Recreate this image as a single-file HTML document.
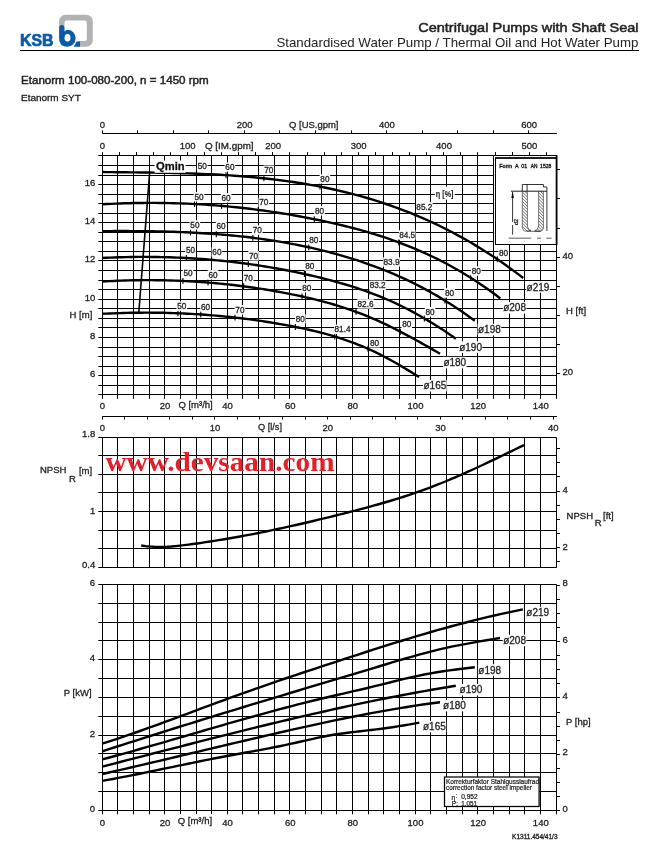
<!DOCTYPE html>
<html><head><meta charset="utf-8"><style>
html,body{margin:0;padding:0;background:#fff;}
body{width:666px;height:862px;overflow:hidden;position:relative;}
svg{position:absolute;left:0;top:0;}
</style></head><body>
<svg width="666" height="862" viewBox="0 0 666 862" font-family="Liberation Sans, Arial, sans-serif">
<rect width="666" height="862" fill="#fff"/>
<!-- logo -->
<path d="M65.4,14.8 H86.3 A6.5,6.5 0 0 1 92.8,21.3 V40.2 A6.5,6.5 0 0 1 86.3,46.7 H78 V41 H84.8 A2,2 0 0 0 86.8,39 V22.5 A2,2 0 0 0 84.8,20.5 H66.5 A2,2 0 0 0 64.5,22.5 V26 H59.1 V21.3 A6.5,6.5 0 0 1 65.4,14.8 Z" fill="#b3b3b3"/>
<path d="M59.1,27.6 Q59.1,25.1 61.8,25.1 Q64.5,25.1 64.5,27.6 V31.6 Q66,29.7 67.6,29.7 A8,8.5 0 0 1 67.6,46.7 Q59.1,46.7 59.1,38.2 Z M67.5,34 A3,3.8 0 1 0 67.5,41.6 A3,3.8 0 1 0 67.5,34 Z" fill="#0b5aa8" fill-rule="evenodd"/>
<path d="M76.6,41.5 H80 V46.7 H73.8 Z" fill="#0b5aa8"/>
<text x="20" y="46.3" font-size="16" font-weight="bold" fill="#0b5aa8" stroke="#0b5aa8" stroke-width="0.7" textLength="33.5" lengthAdjust="spacingAndGlyphs">KSB</text>
<line x1="20" y1="50.5" x2="639" y2="50.5" stroke="#000" stroke-width="1"/>
<text x="638.6" y="31.6" font-size="13.4" font-weight="normal" fill="#222" stroke="#222" stroke-width="0.5" text-anchor="end" textLength="220.4" lengthAdjust="spacingAndGlyphs">Centrifugal Pumps with Shaft Seal</text>
<text x="638.4" y="46.9" font-size="12.2" fill="#222" text-anchor="end" textLength="362" lengthAdjust="spacingAndGlyphs">Standardised Water Pump / Thermal Oil and Hot Water Pump</text>
<text x="21" y="83.9" font-size="11" font-weight="normal" fill="#222" stroke="#222" stroke-width="0.45" textLength="187.7" lengthAdjust="spacingAndGlyphs">Etanorm 100-080-200, n = 1450 rpm</text>
<text x="21" y="100.6" font-size="9.1" fill="#222" stroke="#222" stroke-width="0.3" textLength="59.8" lengthAdjust="spacingAndGlyphs">Etanorm SYT</text>
<line x1="102.50" y1="155.60" x2="102.50" y2="398.90" stroke="#000" stroke-width="1"/>
<line x1="117.50" y1="155.60" x2="117.50" y2="398.90" stroke="#000" stroke-width="1"/>
<line x1="133.50" y1="155.60" x2="133.50" y2="398.90" stroke="#000" stroke-width="1"/>
<line x1="149.50" y1="155.60" x2="149.50" y2="398.90" stroke="#000" stroke-width="1"/>
<line x1="164.50" y1="155.60" x2="164.50" y2="398.90" stroke="#000" stroke-width="1"/>
<line x1="180.50" y1="155.60" x2="180.50" y2="398.90" stroke="#000" stroke-width="1"/>
<line x1="196.50" y1="155.60" x2="196.50" y2="398.90" stroke="#000" stroke-width="1"/>
<line x1="211.50" y1="155.60" x2="211.50" y2="398.90" stroke="#000" stroke-width="1"/>
<line x1="227.50" y1="155.60" x2="227.50" y2="398.90" stroke="#000" stroke-width="1"/>
<line x1="242.50" y1="155.60" x2="242.50" y2="398.90" stroke="#000" stroke-width="1"/>
<line x1="258.50" y1="155.60" x2="258.50" y2="398.90" stroke="#000" stroke-width="1"/>
<line x1="274.50" y1="155.60" x2="274.50" y2="398.90" stroke="#000" stroke-width="1"/>
<line x1="289.50" y1="155.60" x2="289.50" y2="398.90" stroke="#000" stroke-width="1"/>
<line x1="305.50" y1="155.60" x2="305.50" y2="398.90" stroke="#000" stroke-width="1"/>
<line x1="321.50" y1="155.60" x2="321.50" y2="398.90" stroke="#000" stroke-width="1"/>
<line x1="336.50" y1="155.60" x2="336.50" y2="398.90" stroke="#000" stroke-width="1"/>
<line x1="352.50" y1="155.60" x2="352.50" y2="398.90" stroke="#000" stroke-width="1"/>
<line x1="368.50" y1="155.60" x2="368.50" y2="398.90" stroke="#000" stroke-width="1"/>
<line x1="383.50" y1="155.60" x2="383.50" y2="398.90" stroke="#000" stroke-width="1"/>
<line x1="399.50" y1="155.60" x2="399.50" y2="398.90" stroke="#000" stroke-width="1"/>
<line x1="415.50" y1="155.60" x2="415.50" y2="398.90" stroke="#000" stroke-width="1"/>
<line x1="430.50" y1="155.60" x2="430.50" y2="398.90" stroke="#000" stroke-width="1"/>
<line x1="446.50" y1="155.60" x2="446.50" y2="398.90" stroke="#000" stroke-width="1"/>
<line x1="462.50" y1="155.60" x2="462.50" y2="398.90" stroke="#000" stroke-width="1"/>
<line x1="477.50" y1="155.60" x2="477.50" y2="398.90" stroke="#000" stroke-width="1"/>
<line x1="493.50" y1="155.60" x2="493.50" y2="398.90" stroke="#000" stroke-width="1"/>
<line x1="509.50" y1="155.60" x2="509.50" y2="398.90" stroke="#000" stroke-width="1"/>
<line x1="524.50" y1="155.60" x2="524.50" y2="398.90" stroke="#000" stroke-width="1"/>
<line x1="540.50" y1="155.60" x2="540.50" y2="398.90" stroke="#000" stroke-width="1"/>
<line x1="556.50" y1="155.60" x2="556.50" y2="398.90" stroke="#000" stroke-width="1"/>
<line x1="98.30" y1="155.50" x2="556.44" y2="155.50" stroke="#000" stroke-width="1"/>
<line x1="98.30" y1="165.50" x2="556.44" y2="165.50" stroke="#000" stroke-width="1"/>
<line x1="98.30" y1="175.50" x2="556.44" y2="175.50" stroke="#000" stroke-width="1"/>
<line x1="98.30" y1="184.50" x2="556.44" y2="184.50" stroke="#000" stroke-width="1"/>
<line x1="98.30" y1="194.50" x2="556.44" y2="194.50" stroke="#000" stroke-width="1"/>
<line x1="98.30" y1="203.50" x2="556.44" y2="203.50" stroke="#000" stroke-width="1"/>
<line x1="98.30" y1="213.50" x2="556.44" y2="213.50" stroke="#000" stroke-width="1"/>
<line x1="98.30" y1="222.50" x2="556.44" y2="222.50" stroke="#000" stroke-width="1"/>
<line x1="98.30" y1="232.50" x2="556.44" y2="232.50" stroke="#000" stroke-width="1"/>
<line x1="98.30" y1="241.50" x2="556.44" y2="241.50" stroke="#000" stroke-width="1"/>
<line x1="98.30" y1="251.50" x2="556.44" y2="251.50" stroke="#000" stroke-width="1"/>
<line x1="98.30" y1="260.50" x2="556.44" y2="260.50" stroke="#000" stroke-width="1"/>
<line x1="98.30" y1="270.50" x2="556.44" y2="270.50" stroke="#000" stroke-width="1"/>
<line x1="98.30" y1="280.50" x2="556.44" y2="280.50" stroke="#000" stroke-width="1"/>
<line x1="98.30" y1="289.50" x2="556.44" y2="289.50" stroke="#000" stroke-width="1"/>
<line x1="98.30" y1="299.50" x2="556.44" y2="299.50" stroke="#000" stroke-width="1"/>
<line x1="98.30" y1="308.50" x2="556.44" y2="308.50" stroke="#000" stroke-width="1"/>
<line x1="98.30" y1="318.50" x2="556.44" y2="318.50" stroke="#000" stroke-width="1"/>
<line x1="98.30" y1="327.50" x2="556.44" y2="327.50" stroke="#000" stroke-width="1"/>
<line x1="98.30" y1="337.50" x2="556.44" y2="337.50" stroke="#000" stroke-width="1"/>
<line x1="98.30" y1="347.50" x2="556.44" y2="347.50" stroke="#000" stroke-width="1"/>
<line x1="98.30" y1="356.50" x2="556.44" y2="356.50" stroke="#000" stroke-width="1"/>
<line x1="98.30" y1="366.50" x2="556.44" y2="366.50" stroke="#000" stroke-width="1"/>
<line x1="98.30" y1="375.50" x2="556.44" y2="375.50" stroke="#000" stroke-width="1"/>
<line x1="98.30" y1="385.50" x2="556.44" y2="385.50" stroke="#000" stroke-width="1"/>
<line x1="98.30" y1="394.50" x2="556.44" y2="394.50" stroke="#000" stroke-width="1"/>
<line x1="102.30" y1="133.50" x2="556.94" y2="133.50" stroke="#000" stroke-width="1"/>
<line x1="102.50" y1="133.40" x2="102.50" y2="130.40" stroke="#000" stroke-width="1"/>
<line x1="137.50" y1="133.40" x2="137.50" y2="130.40" stroke="#000" stroke-width="1"/>
<line x1="173.50" y1="133.40" x2="173.50" y2="130.40" stroke="#000" stroke-width="1"/>
<line x1="208.50" y1="133.40" x2="208.50" y2="130.40" stroke="#000" stroke-width="1"/>
<line x1="244.50" y1="133.40" x2="244.50" y2="130.40" stroke="#000" stroke-width="1"/>
<line x1="279.50" y1="133.40" x2="279.50" y2="130.40" stroke="#000" stroke-width="1"/>
<line x1="315.50" y1="133.40" x2="315.50" y2="130.40" stroke="#000" stroke-width="1"/>
<line x1="351.50" y1="133.40" x2="351.50" y2="130.40" stroke="#000" stroke-width="1"/>
<line x1="386.50" y1="133.40" x2="386.50" y2="130.40" stroke="#000" stroke-width="1"/>
<line x1="422.50" y1="133.40" x2="422.50" y2="130.40" stroke="#000" stroke-width="1"/>
<line x1="457.50" y1="133.40" x2="457.50" y2="130.40" stroke="#000" stroke-width="1"/>
<line x1="493.50" y1="133.40" x2="493.50" y2="130.40" stroke="#000" stroke-width="1"/>
<line x1="528.50" y1="133.40" x2="528.50" y2="130.40" stroke="#000" stroke-width="1"/>
<line x1="102.50" y1="155.60" x2="102.50" y2="152.10" stroke="#000" stroke-width="1"/>
<line x1="119.50" y1="155.60" x2="119.50" y2="152.10" stroke="#000" stroke-width="1"/>
<line x1="136.50" y1="155.60" x2="136.50" y2="152.10" stroke="#000" stroke-width="1"/>
<line x1="153.50" y1="155.60" x2="153.50" y2="152.10" stroke="#000" stroke-width="1"/>
<line x1="170.50" y1="155.60" x2="170.50" y2="152.10" stroke="#000" stroke-width="1"/>
<line x1="187.50" y1="155.60" x2="187.50" y2="152.10" stroke="#000" stroke-width="1"/>
<line x1="204.50" y1="155.60" x2="204.50" y2="152.10" stroke="#000" stroke-width="1"/>
<line x1="221.50" y1="155.60" x2="221.50" y2="152.10" stroke="#000" stroke-width="1"/>
<line x1="238.50" y1="155.60" x2="238.50" y2="152.10" stroke="#000" stroke-width="1"/>
<line x1="255.50" y1="155.60" x2="255.50" y2="152.10" stroke="#000" stroke-width="1"/>
<line x1="272.50" y1="155.60" x2="272.50" y2="152.10" stroke="#000" stroke-width="1"/>
<line x1="289.50" y1="155.60" x2="289.50" y2="152.10" stroke="#000" stroke-width="1"/>
<line x1="307.50" y1="155.60" x2="307.50" y2="152.10" stroke="#000" stroke-width="1"/>
<line x1="324.50" y1="155.60" x2="324.50" y2="152.10" stroke="#000" stroke-width="1"/>
<line x1="341.50" y1="155.60" x2="341.50" y2="152.10" stroke="#000" stroke-width="1"/>
<line x1="358.50" y1="155.60" x2="358.50" y2="152.10" stroke="#000" stroke-width="1"/>
<line x1="375.50" y1="155.60" x2="375.50" y2="152.10" stroke="#000" stroke-width="1"/>
<line x1="392.50" y1="155.60" x2="392.50" y2="152.10" stroke="#000" stroke-width="1"/>
<line x1="409.50" y1="155.60" x2="409.50" y2="152.10" stroke="#000" stroke-width="1"/>
<line x1="426.50" y1="155.60" x2="426.50" y2="152.10" stroke="#000" stroke-width="1"/>
<line x1="443.50" y1="155.60" x2="443.50" y2="152.10" stroke="#000" stroke-width="1"/>
<line x1="460.50" y1="155.60" x2="460.50" y2="152.10" stroke="#000" stroke-width="1"/>
<line x1="477.50" y1="155.60" x2="477.50" y2="152.10" stroke="#000" stroke-width="1"/>
<line x1="495.50" y1="155.60" x2="495.50" y2="152.10" stroke="#000" stroke-width="1"/>
<line x1="512.50" y1="155.60" x2="512.50" y2="152.10" stroke="#000" stroke-width="1"/>
<line x1="529.50" y1="155.60" x2="529.50" y2="152.10" stroke="#000" stroke-width="1"/>
<line x1="546.50" y1="155.60" x2="546.50" y2="152.10" stroke="#000" stroke-width="1"/>
<line x1="556.44" y1="373.50" x2="560.04" y2="373.50" stroke="#000" stroke-width="1"/>
<line x1="556.44" y1="344.50" x2="560.04" y2="344.50" stroke="#000" stroke-width="1"/>
<line x1="556.44" y1="315.50" x2="560.04" y2="315.50" stroke="#000" stroke-width="1"/>
<line x1="556.44" y1="286.50" x2="560.04" y2="286.50" stroke="#000" stroke-width="1"/>
<line x1="556.44" y1="257.50" x2="560.04" y2="257.50" stroke="#000" stroke-width="1"/>
<line x1="556.44" y1="228.50" x2="560.04" y2="228.50" stroke="#000" stroke-width="1"/>
<line x1="556.44" y1="198.50" x2="560.04" y2="198.50" stroke="#000" stroke-width="1"/>
<line x1="556.44" y1="169.50" x2="560.04" y2="169.50" stroke="#000" stroke-width="1"/>
<line x1="102.30" y1="416.50" x2="556.94" y2="416.50" stroke="#000" stroke-width="1"/>
<line x1="102.50" y1="416.60" x2="102.50" y2="419.60" stroke="#000" stroke-width="1"/>
<line x1="124.50" y1="416.60" x2="124.50" y2="419.60" stroke="#000" stroke-width="1"/>
<line x1="147.50" y1="416.60" x2="147.50" y2="419.60" stroke="#000" stroke-width="1"/>
<line x1="169.50" y1="416.60" x2="169.50" y2="419.60" stroke="#000" stroke-width="1"/>
<line x1="192.50" y1="416.60" x2="192.50" y2="419.60" stroke="#000" stroke-width="1"/>
<line x1="214.50" y1="416.60" x2="214.50" y2="419.60" stroke="#000" stroke-width="1"/>
<line x1="237.50" y1="416.60" x2="237.50" y2="419.60" stroke="#000" stroke-width="1"/>
<line x1="259.50" y1="416.60" x2="259.50" y2="419.60" stroke="#000" stroke-width="1"/>
<line x1="282.50" y1="416.60" x2="282.50" y2="419.60" stroke="#000" stroke-width="1"/>
<line x1="305.50" y1="416.60" x2="305.50" y2="419.60" stroke="#000" stroke-width="1"/>
<line x1="327.50" y1="416.60" x2="327.50" y2="419.60" stroke="#000" stroke-width="1"/>
<line x1="350.50" y1="416.60" x2="350.50" y2="419.60" stroke="#000" stroke-width="1"/>
<line x1="372.50" y1="416.60" x2="372.50" y2="419.60" stroke="#000" stroke-width="1"/>
<line x1="395.50" y1="416.60" x2="395.50" y2="419.60" stroke="#000" stroke-width="1"/>
<line x1="417.50" y1="416.60" x2="417.50" y2="419.60" stroke="#000" stroke-width="1"/>
<line x1="440.50" y1="416.60" x2="440.50" y2="419.60" stroke="#000" stroke-width="1"/>
<line x1="462.50" y1="416.60" x2="462.50" y2="419.60" stroke="#000" stroke-width="1"/>
<line x1="485.50" y1="416.60" x2="485.50" y2="419.60" stroke="#000" stroke-width="1"/>
<line x1="507.50" y1="416.60" x2="507.50" y2="419.60" stroke="#000" stroke-width="1"/>
<line x1="530.50" y1="416.60" x2="530.50" y2="419.60" stroke="#000" stroke-width="1"/>
<line x1="553.50" y1="416.60" x2="553.50" y2="419.60" stroke="#000" stroke-width="1"/>
<line x1="102.50" y1="437.20" x2="102.50" y2="567.70" stroke="#000" stroke-width="1"/>
<line x1="117.50" y1="437.20" x2="117.50" y2="567.70" stroke="#000" stroke-width="1"/>
<line x1="133.50" y1="437.20" x2="133.50" y2="567.70" stroke="#000" stroke-width="1"/>
<line x1="149.50" y1="437.20" x2="149.50" y2="567.70" stroke="#000" stroke-width="1"/>
<line x1="164.50" y1="437.20" x2="164.50" y2="567.70" stroke="#000" stroke-width="1"/>
<line x1="180.50" y1="437.20" x2="180.50" y2="567.70" stroke="#000" stroke-width="1"/>
<line x1="196.50" y1="437.20" x2="196.50" y2="567.70" stroke="#000" stroke-width="1"/>
<line x1="211.50" y1="437.20" x2="211.50" y2="567.70" stroke="#000" stroke-width="1"/>
<line x1="227.50" y1="437.20" x2="227.50" y2="567.70" stroke="#000" stroke-width="1"/>
<line x1="242.50" y1="437.20" x2="242.50" y2="567.70" stroke="#000" stroke-width="1"/>
<line x1="258.50" y1="437.20" x2="258.50" y2="567.70" stroke="#000" stroke-width="1"/>
<line x1="274.50" y1="437.20" x2="274.50" y2="567.70" stroke="#000" stroke-width="1"/>
<line x1="289.50" y1="437.20" x2="289.50" y2="567.70" stroke="#000" stroke-width="1"/>
<line x1="305.50" y1="437.20" x2="305.50" y2="567.70" stroke="#000" stroke-width="1"/>
<line x1="321.50" y1="437.20" x2="321.50" y2="567.70" stroke="#000" stroke-width="1"/>
<line x1="336.50" y1="437.20" x2="336.50" y2="567.70" stroke="#000" stroke-width="1"/>
<line x1="352.50" y1="437.20" x2="352.50" y2="567.70" stroke="#000" stroke-width="1"/>
<line x1="368.50" y1="437.20" x2="368.50" y2="567.70" stroke="#000" stroke-width="1"/>
<line x1="383.50" y1="437.20" x2="383.50" y2="567.70" stroke="#000" stroke-width="1"/>
<line x1="399.50" y1="437.20" x2="399.50" y2="567.70" stroke="#000" stroke-width="1"/>
<line x1="415.50" y1="437.20" x2="415.50" y2="567.70" stroke="#000" stroke-width="1"/>
<line x1="430.50" y1="437.20" x2="430.50" y2="567.70" stroke="#000" stroke-width="1"/>
<line x1="446.50" y1="437.20" x2="446.50" y2="567.70" stroke="#000" stroke-width="1"/>
<line x1="462.50" y1="437.20" x2="462.50" y2="567.70" stroke="#000" stroke-width="1"/>
<line x1="477.50" y1="437.20" x2="477.50" y2="567.70" stroke="#000" stroke-width="1"/>
<line x1="493.50" y1="437.20" x2="493.50" y2="567.70" stroke="#000" stroke-width="1"/>
<line x1="509.50" y1="437.20" x2="509.50" y2="567.70" stroke="#000" stroke-width="1"/>
<line x1="524.50" y1="437.20" x2="524.50" y2="567.70" stroke="#000" stroke-width="1"/>
<line x1="540.50" y1="437.20" x2="540.50" y2="567.70" stroke="#000" stroke-width="1"/>
<line x1="556.50" y1="437.20" x2="556.50" y2="567.70" stroke="#000" stroke-width="1"/>
<line x1="98.30" y1="437.50" x2="556.44" y2="437.50" stroke="#000" stroke-width="1"/>
<line x1="98.30" y1="455.50" x2="556.44" y2="455.50" stroke="#000" stroke-width="1"/>
<line x1="98.30" y1="474.50" x2="556.44" y2="474.50" stroke="#000" stroke-width="1"/>
<line x1="98.30" y1="492.50" x2="556.44" y2="492.50" stroke="#000" stroke-width="1"/>
<line x1="98.30" y1="511.50" x2="556.44" y2="511.50" stroke="#000" stroke-width="1"/>
<line x1="98.30" y1="530.50" x2="556.44" y2="530.50" stroke="#000" stroke-width="1"/>
<line x1="98.30" y1="548.50" x2="556.44" y2="548.50" stroke="#000" stroke-width="1"/>
<line x1="98.30" y1="567.50" x2="556.44" y2="567.50" stroke="#000" stroke-width="1"/>
<line x1="556.44" y1="561.50" x2="560.04" y2="561.50" stroke="#000" stroke-width="1"/>
<line x1="556.44" y1="547.50" x2="560.04" y2="547.50" stroke="#000" stroke-width="1"/>
<line x1="556.44" y1="533.50" x2="560.04" y2="533.50" stroke="#000" stroke-width="1"/>
<line x1="556.44" y1="519.50" x2="560.04" y2="519.50" stroke="#000" stroke-width="1"/>
<line x1="556.44" y1="505.50" x2="560.04" y2="505.50" stroke="#000" stroke-width="1"/>
<line x1="556.44" y1="491.50" x2="560.04" y2="491.50" stroke="#000" stroke-width="1"/>
<line x1="556.44" y1="476.50" x2="560.04" y2="476.50" stroke="#000" stroke-width="1"/>
<line x1="556.44" y1="462.50" x2="560.04" y2="462.50" stroke="#000" stroke-width="1"/>
<line x1="556.44" y1="448.50" x2="560.04" y2="448.50" stroke="#000" stroke-width="1"/>
<line x1="102.50" y1="584.40" x2="102.50" y2="814.30" stroke="#000" stroke-width="1"/>
<line x1="117.50" y1="584.40" x2="117.50" y2="814.30" stroke="#000" stroke-width="1"/>
<line x1="133.50" y1="584.40" x2="133.50" y2="814.30" stroke="#000" stroke-width="1"/>
<line x1="149.50" y1="584.40" x2="149.50" y2="814.30" stroke="#000" stroke-width="1"/>
<line x1="164.50" y1="584.40" x2="164.50" y2="814.30" stroke="#000" stroke-width="1"/>
<line x1="180.50" y1="584.40" x2="180.50" y2="814.30" stroke="#000" stroke-width="1"/>
<line x1="196.50" y1="584.40" x2="196.50" y2="814.30" stroke="#000" stroke-width="1"/>
<line x1="211.50" y1="584.40" x2="211.50" y2="814.30" stroke="#000" stroke-width="1"/>
<line x1="227.50" y1="584.40" x2="227.50" y2="814.30" stroke="#000" stroke-width="1"/>
<line x1="242.50" y1="584.40" x2="242.50" y2="814.30" stroke="#000" stroke-width="1"/>
<line x1="258.50" y1="584.40" x2="258.50" y2="814.30" stroke="#000" stroke-width="1"/>
<line x1="274.50" y1="584.40" x2="274.50" y2="814.30" stroke="#000" stroke-width="1"/>
<line x1="289.50" y1="584.40" x2="289.50" y2="814.30" stroke="#000" stroke-width="1"/>
<line x1="305.50" y1="584.40" x2="305.50" y2="814.30" stroke="#000" stroke-width="1"/>
<line x1="321.50" y1="584.40" x2="321.50" y2="814.30" stroke="#000" stroke-width="1"/>
<line x1="336.50" y1="584.40" x2="336.50" y2="814.30" stroke="#000" stroke-width="1"/>
<line x1="352.50" y1="584.40" x2="352.50" y2="814.30" stroke="#000" stroke-width="1"/>
<line x1="368.50" y1="584.40" x2="368.50" y2="814.30" stroke="#000" stroke-width="1"/>
<line x1="383.50" y1="584.40" x2="383.50" y2="814.30" stroke="#000" stroke-width="1"/>
<line x1="399.50" y1="584.40" x2="399.50" y2="814.30" stroke="#000" stroke-width="1"/>
<line x1="415.50" y1="584.40" x2="415.50" y2="814.30" stroke="#000" stroke-width="1"/>
<line x1="430.50" y1="584.40" x2="430.50" y2="814.30" stroke="#000" stroke-width="1"/>
<line x1="446.50" y1="584.40" x2="446.50" y2="814.30" stroke="#000" stroke-width="1"/>
<line x1="462.50" y1="584.40" x2="462.50" y2="814.30" stroke="#000" stroke-width="1"/>
<line x1="477.50" y1="584.40" x2="477.50" y2="814.30" stroke="#000" stroke-width="1"/>
<line x1="493.50" y1="584.40" x2="493.50" y2="814.30" stroke="#000" stroke-width="1"/>
<line x1="509.50" y1="584.40" x2="509.50" y2="814.30" stroke="#000" stroke-width="1"/>
<line x1="524.50" y1="584.40" x2="524.50" y2="814.30" stroke="#000" stroke-width="1"/>
<line x1="540.50" y1="584.40" x2="540.50" y2="814.30" stroke="#000" stroke-width="1"/>
<line x1="556.50" y1="584.40" x2="556.50" y2="814.30" stroke="#000" stroke-width="1"/>
<line x1="98.30" y1="584.50" x2="556.44" y2="584.50" stroke="#000" stroke-width="1"/>
<line x1="98.30" y1="603.50" x2="556.44" y2="603.50" stroke="#000" stroke-width="1"/>
<line x1="98.30" y1="622.50" x2="556.44" y2="622.50" stroke="#000" stroke-width="1"/>
<line x1="98.30" y1="640.50" x2="556.44" y2="640.50" stroke="#000" stroke-width="1"/>
<line x1="98.30" y1="659.50" x2="556.44" y2="659.50" stroke="#000" stroke-width="1"/>
<line x1="98.30" y1="678.50" x2="556.44" y2="678.50" stroke="#000" stroke-width="1"/>
<line x1="98.30" y1="697.50" x2="556.44" y2="697.50" stroke="#000" stroke-width="1"/>
<line x1="98.30" y1="716.50" x2="556.44" y2="716.50" stroke="#000" stroke-width="1"/>
<line x1="98.30" y1="735.50" x2="556.44" y2="735.50" stroke="#000" stroke-width="1"/>
<line x1="98.30" y1="753.50" x2="556.44" y2="753.50" stroke="#000" stroke-width="1"/>
<line x1="98.30" y1="772.50" x2="556.44" y2="772.50" stroke="#000" stroke-width="1"/>
<line x1="98.30" y1="791.50" x2="556.44" y2="791.50" stroke="#000" stroke-width="1"/>
<line x1="98.30" y1="810.50" x2="556.44" y2="810.50" stroke="#000" stroke-width="1"/>
<line x1="556.44" y1="810.50" x2="560.04" y2="810.50" stroke="#000" stroke-width="1"/>
<line x1="556.44" y1="796.50" x2="560.04" y2="796.50" stroke="#000" stroke-width="1"/>
<line x1="556.44" y1="782.50" x2="560.04" y2="782.50" stroke="#000" stroke-width="1"/>
<line x1="556.44" y1="768.50" x2="560.04" y2="768.50" stroke="#000" stroke-width="1"/>
<line x1="556.44" y1="754.50" x2="560.04" y2="754.50" stroke="#000" stroke-width="1"/>
<line x1="556.44" y1="740.50" x2="560.04" y2="740.50" stroke="#000" stroke-width="1"/>
<line x1="556.44" y1="726.50" x2="560.04" y2="726.50" stroke="#000" stroke-width="1"/>
<line x1="556.44" y1="712.50" x2="560.04" y2="712.50" stroke="#000" stroke-width="1"/>
<line x1="556.44" y1="697.50" x2="560.04" y2="697.50" stroke="#000" stroke-width="1"/>
<line x1="556.44" y1="683.50" x2="560.04" y2="683.50" stroke="#000" stroke-width="1"/>
<line x1="556.44" y1="669.50" x2="560.04" y2="669.50" stroke="#000" stroke-width="1"/>
<line x1="556.44" y1="655.50" x2="560.04" y2="655.50" stroke="#000" stroke-width="1"/>
<line x1="556.44" y1="641.50" x2="560.04" y2="641.50" stroke="#000" stroke-width="1"/>
<line x1="556.44" y1="627.50" x2="560.04" y2="627.50" stroke="#000" stroke-width="1"/>
<line x1="556.44" y1="613.50" x2="560.04" y2="613.50" stroke="#000" stroke-width="1"/>
<line x1="556.44" y1="599.50" x2="560.04" y2="599.50" stroke="#000" stroke-width="1"/>
<line x1="556.44" y1="585.50" x2="560.04" y2="585.50" stroke="#000" stroke-width="1"/>
<path d="M102.30,172.02 L107.03,172.08 L111.76,172.13 L116.49,172.18 L121.22,172.23 L125.95,172.28 L130.68,172.33 L135.40,172.38 L140.13,172.44 L144.86,172.50 L149.59,172.56 L154.32,172.63 L159.05,172.71 L163.78,172.80 L168.51,172.89 L173.24,173.00 L177.97,173.11 L182.70,173.24 L187.43,173.38 L192.16,173.54 L196.88,173.71 L201.61,173.90 L206.34,174.10 L211.07,174.32 L215.80,174.56 L220.53,174.82 L225.26,175.10 L229.99,175.40 L234.72,175.73 L239.45,176.08 L244.18,176.45 L248.91,176.85 L253.63,177.27 L258.36,177.73 L263.09,178.21 L267.82,178.72 L272.55,179.26 L277.28,179.83 L282.01,180.44 L286.74,181.08 L291.47,181.75 L296.20,182.46 L300.93,183.21 L305.66,183.99 L310.39,184.81 L315.11,185.67 L319.84,186.57 L324.57,187.52 L329.30,188.50 L334.03,189.53 L338.76,190.60 L343.49,191.72 L348.22,192.88 L352.95,194.10 L357.68,195.36 L362.41,196.66 L367.14,198.02 L371.87,199.43 L376.59,200.90 L381.32,202.42 L386.05,203.99 L390.78,205.61 L395.51,207.30 L400.24,209.04 L404.97,210.84 L409.70,212.70 L414.43,214.62 L419.16,216.60 L423.89,218.65 L428.62,220.76 L433.34,222.93 L438.07,225.18 L442.80,227.48 L447.53,229.86 L452.26,232.30 L456.99,234.82 L461.72,237.41 L466.45,240.06 L471.18,242.80 L475.91,245.60 L480.64,248.48 L485.37,251.44 L490.10,254.48 L494.82,257.59 L499.55,260.79 L504.28,264.06 L509.01,267.42 L513.74,270.85 L518.47,274.38 L523.20,277.98" fill="none" stroke="#000" stroke-width="2.4" stroke-linecap="butt"/>
<path d="M102.30,204.31 L106.77,204.07 L111.24,203.84 L115.72,203.64 L120.19,203.46 L124.66,203.31 L129.13,203.18 L133.60,203.07 L138.08,202.99 L142.55,202.93 L147.02,202.90 L151.49,202.88 L155.96,202.90 L160.43,202.94 L164.91,203.00 L169.38,203.08 L173.85,203.19 L178.32,203.33 L182.79,203.49 L187.27,203.67 L191.74,203.88 L196.21,204.11 L200.68,204.37 L205.15,204.65 L209.63,204.95 L214.10,205.28 L218.57,205.64 L223.04,206.02 L227.51,206.42 L231.99,206.85 L236.46,207.30 L240.93,207.78 L245.40,208.28 L249.87,208.81 L254.34,209.36 L258.82,209.94 L263.29,210.54 L267.76,211.17 L272.23,211.82 L276.70,212.50 L281.18,213.20 L285.65,213.93 L290.12,214.68 L294.59,215.46 L299.06,216.27 L303.54,217.09 L308.01,217.95 L312.48,218.83 L316.95,219.73 L321.42,220.66 L325.90,221.62 L330.37,222.60 L334.84,223.61 L339.31,224.65 L343.78,225.73 L348.26,226.84 L352.73,227.99 L357.20,229.17 L361.67,230.40 L366.14,231.67 L370.61,232.98 L375.09,234.34 L379.56,235.74 L384.03,237.20 L388.50,238.70 L392.97,240.26 L397.45,241.88 L401.92,243.55 L406.39,245.28 L410.86,247.07 L415.33,248.92 L419.81,250.84 L424.28,252.82 L428.75,254.88 L433.22,257.00 L437.69,259.19 L442.17,261.46 L446.64,263.80 L451.11,266.22 L455.58,268.72 L460.05,271.30 L464.52,273.97 L469.00,276.71 L473.47,279.55 L477.94,282.47 L482.41,285.49 L486.88,288.59 L491.36,291.79 L495.83,295.09 L500.30,298.48" fill="none" stroke="#000" stroke-width="2.4" stroke-linecap="butt"/>
<path d="M102.30,231.15 L106.49,231.12 L110.67,231.09 L114.86,231.07 L119.04,231.06 L123.23,231.06 L127.41,231.06 L131.60,231.08 L135.78,231.10 L139.97,231.13 L144.15,231.17 L148.34,231.23 L152.52,231.29 L156.71,231.37 L160.90,231.46 L165.08,231.56 L169.27,231.68 L173.45,231.81 L177.64,231.96 L181.82,232.12 L186.01,232.30 L190.19,232.50 L194.38,232.71 L198.56,232.94 L202.75,233.19 L206.93,233.46 L211.12,233.74 L215.31,234.05 L219.49,234.38 L223.68,234.73 L227.86,235.10 L232.05,235.49 L236.23,235.90 L240.42,236.34 L244.60,236.81 L248.79,237.29 L252.97,237.81 L257.16,238.34 L261.34,238.91 L265.53,239.50 L269.72,240.12 L273.90,240.76 L278.09,241.44 L282.27,242.14 L286.46,242.87 L290.64,243.64 L294.83,244.43 L299.01,245.25 L303.20,246.11 L307.38,247.00 L311.57,247.92 L315.76,248.88 L319.94,249.86 L324.13,250.89 L328.31,251.95 L332.50,253.04 L336.68,254.18 L340.87,255.35 L345.05,256.56 L349.24,257.82 L353.42,259.12 L357.61,260.46 L361.79,261.85 L365.98,263.28 L370.17,264.76 L374.35,266.29 L378.54,267.87 L382.72,269.50 L386.91,271.18 L391.09,272.92 L395.28,274.71 L399.46,276.56 L403.65,278.46 L407.83,280.42 L412.02,282.45 L416.20,284.53 L420.39,286.68 L424.58,288.88 L428.76,291.16 L432.95,293.50 L437.13,295.90 L441.32,298.38 L445.50,300.92 L449.69,303.53 L453.87,306.22 L458.06,308.97 L462.24,311.81 L466.43,314.71 L470.61,317.70 L474.80,320.76" fill="none" stroke="#000" stroke-width="2.4" stroke-linecap="butt"/>
<path d="M102.30,257.94 L106.27,257.75 L110.25,257.58 L114.22,257.43 L118.19,257.30 L122.17,257.19 L126.14,257.09 L130.11,257.02 L134.08,256.96 L138.06,256.92 L142.03,256.90 L146.00,256.91 L149.98,256.93 L153.95,256.97 L157.92,257.02 L161.90,257.10 L165.87,257.20 L169.84,257.32 L173.81,257.46 L177.79,257.62 L181.76,257.80 L185.73,258.00 L189.71,258.22 L193.68,258.46 L197.65,258.72 L201.63,259.01 L205.60,259.31 L209.57,259.64 L213.54,259.98 L217.52,260.35 L221.49,260.74 L225.46,261.15 L229.44,261.58 L233.41,262.04 L237.38,262.51 L241.36,263.01 L245.33,263.53 L249.30,264.07 L253.28,264.64 L257.25,265.23 L261.22,265.84 L265.19,266.47 L269.17,267.13 L273.14,267.81 L277.11,268.51 L281.09,269.23 L285.06,269.98 L289.03,270.75 L293.01,271.55 L296.98,272.37 L300.95,273.21 L304.92,274.07 L308.90,274.97 L312.87,275.88 L316.84,276.82 L320.82,277.79 L324.79,278.79 L328.76,279.82 L332.74,280.88 L336.71,281.97 L340.68,283.10 L344.66,284.26 L348.63,285.46 L352.60,286.69 L356.57,287.97 L360.55,289.28 L364.52,290.65 L368.49,292.06 L372.47,293.52 L376.44,295.04 L380.41,296.62 L384.39,298.27 L388.36,299.98 L392.33,301.75 L396.30,303.59 L400.28,305.50 L404.25,307.47 L408.22,309.50 L412.20,311.60 L416.17,313.76 L420.14,315.98 L424.12,318.26 L428.09,320.61 L432.06,323.01 L436.03,325.47 L440.01,327.99 L443.98,330.57 L447.95,333.21 L451.93,335.90 L455.90,338.65" fill="none" stroke="#000" stroke-width="2.4" stroke-linecap="butt"/>
<path d="M102.30,281.54 L106.09,281.32 L109.89,281.12 L113.68,280.94 L117.48,280.78 L121.27,280.63 L125.07,280.51 L128.86,280.40 L132.66,280.31 L136.45,280.24 L140.24,280.19 L144.04,280.16 L147.83,280.15 L151.63,280.16 L155.42,280.18 L159.22,280.23 L163.01,280.29 L166.80,280.38 L170.60,280.48 L174.39,280.60 L178.19,280.74 L181.98,280.91 L185.78,281.09 L189.57,281.29 L193.37,281.51 L197.16,281.75 L200.95,282.01 L204.75,282.29 L208.54,282.59 L212.34,282.91 L216.13,283.25 L219.93,283.61 L223.72,283.99 L227.51,284.39 L231.31,284.81 L235.10,285.25 L238.90,285.72 L242.69,286.20 L246.49,286.70 L250.28,287.23 L254.08,287.77 L257.87,288.33 L261.66,288.92 L265.46,289.53 L269.25,290.16 L273.05,290.80 L276.84,291.47 L280.64,292.17 L284.43,292.88 L288.22,293.61 L292.02,294.37 L295.81,295.14 L299.61,295.94 L303.40,296.77 L307.20,297.62 L310.99,298.51 L314.79,299.42 L318.58,300.37 L322.37,301.35 L326.17,302.36 L329.96,303.42 L333.76,304.51 L337.55,305.65 L341.35,306.83 L345.14,308.06 L348.93,309.33 L352.73,310.65 L356.52,312.02 L360.32,313.44 L364.11,314.92 L367.91,316.46 L371.70,318.05 L375.50,319.69 L379.29,321.39 L383.08,323.14 L386.88,324.94 L390.67,326.79 L394.47,328.67 L398.26,330.60 L402.06,332.57 L405.85,334.57 L409.64,336.60 L413.44,338.66 L417.23,340.75 L421.03,342.87 L424.82,345.01 L428.62,347.16 L432.41,349.34 L436.21,351.53 L440.00,353.73" fill="none" stroke="#000" stroke-width="2.4" stroke-linecap="butt"/>
<path d="M102.30,313.82 L105.86,313.64 L109.42,313.48 L112.98,313.33 L116.53,313.20 L120.09,313.08 L123.65,312.97 L127.21,312.88 L130.77,312.81 L134.33,312.75 L137.88,312.71 L141.44,312.68 L145.00,312.66 L148.56,312.66 L152.12,312.68 L155.68,312.71 L159.23,312.76 L162.79,312.82 L166.35,312.90 L169.91,312.99 L173.47,313.10 L177.03,313.23 L180.59,313.37 L184.14,313.53 L187.70,313.70 L191.26,313.89 L194.82,314.09 L198.38,314.32 L201.94,314.55 L205.49,314.81 L209.05,315.08 L212.61,315.37 L216.17,315.67 L219.73,315.99 L223.29,316.33 L226.84,316.69 L230.40,317.06 L233.96,317.45 L237.52,317.85 L241.08,318.28 L244.64,318.72 L248.20,319.18 L251.75,319.65 L255.31,320.14 L258.87,320.65 L262.43,321.18 L265.99,321.73 L269.55,322.29 L273.10,322.87 L276.66,323.47 L280.22,324.09 L283.78,324.72 L287.34,325.38 L290.90,326.05 L294.46,326.74 L298.01,327.45 L301.57,328.18 L305.13,328.94 L308.69,329.73 L312.25,330.54 L315.81,331.39 L319.36,332.27 L322.92,333.18 L326.48,334.14 L330.04,335.13 L333.60,336.16 L337.16,337.24 L340.71,338.37 L344.27,339.55 L347.83,340.77 L351.39,342.05 L354.95,343.38 L358.51,344.77 L362.07,346.22 L365.62,347.74 L369.18,349.31 L372.74,350.95 L376.30,352.65 L379.86,354.41 L383.42,356.23 L386.97,358.11 L390.53,360.04 L394.09,362.02 L397.65,364.04 L401.21,366.11 L404.77,368.23 L408.32,370.38 L411.88,372.58 L415.44,374.81 L419.00,377.07" fill="none" stroke="#000" stroke-width="2.4" stroke-linecap="butt"/>
<line x1="149.70" y1="172.00" x2="138.80" y2="312.50" stroke="#000" stroke-width="1.6"/>
<line x1="196.50" y1="170.70" x2="196.50" y2="176.70" stroke="#000" stroke-width="1.1"/>
<line x1="226.00" y1="172.15" x2="226.00" y2="178.15" stroke="#000" stroke-width="1.1"/>
<line x1="263.90" y1="175.29" x2="263.90" y2="181.29" stroke="#000" stroke-width="1.1"/>
<line x1="320.00" y1="183.61" x2="320.00" y2="189.61" stroke="#000" stroke-width="1.1"/>
<line x1="415.30" y1="211.98" x2="415.30" y2="217.98" stroke="#000" stroke-width="1.1"/>
<line x1="497.30" y1="256.25" x2="497.30" y2="262.25" stroke="#000" stroke-width="1.1"/>
<line x1="194.50" y1="201.02" x2="194.50" y2="207.02" stroke="#000" stroke-width="1.1"/>
<line x1="221.50" y1="202.88" x2="221.50" y2="208.88" stroke="#000" stroke-width="1.1"/>
<line x1="258.30" y1="206.87" x2="258.30" y2="212.87" stroke="#000" stroke-width="1.1"/>
<line x1="314.30" y1="216.19" x2="314.30" y2="222.19" stroke="#000" stroke-width="1.1"/>
<line x1="398.80" y1="239.38" x2="398.80" y2="245.38" stroke="#000" stroke-width="1.1"/>
<line x1="470.80" y1="274.85" x2="470.80" y2="280.85" stroke="#000" stroke-width="1.1"/>
<line x1="190.50" y1="229.51" x2="190.50" y2="235.51" stroke="#000" stroke-width="1.1"/>
<line x1="216.30" y1="231.13" x2="216.30" y2="237.13" stroke="#000" stroke-width="1.1"/>
<line x1="252.80" y1="234.78" x2="252.80" y2="240.78" stroke="#000" stroke-width="1.1"/>
<line x1="308.80" y1="244.31" x2="308.80" y2="250.31" stroke="#000" stroke-width="1.1"/>
<line x1="383.40" y1="266.77" x2="383.40" y2="272.77" stroke="#000" stroke-width="1.1"/>
<line x1="445.00" y1="297.61" x2="445.00" y2="303.61" stroke="#000" stroke-width="1.1"/>
<line x1="186.30" y1="255.03" x2="186.30" y2="261.03" stroke="#000" stroke-width="1.1"/>
<line x1="211.50" y1="256.80" x2="211.50" y2="262.80" stroke="#000" stroke-width="1.1"/>
<line x1="248.30" y1="260.94" x2="248.30" y2="266.94" stroke="#000" stroke-width="1.1"/>
<line x1="304.40" y1="270.96" x2="304.40" y2="276.96" stroke="#000" stroke-width="1.1"/>
<line x1="368.80" y1="289.17" x2="368.80" y2="295.17" stroke="#000" stroke-width="1.1"/>
<line x1="424.40" y1="315.43" x2="424.40" y2="321.43" stroke="#000" stroke-width="1.1"/>
<line x1="182.90" y1="277.95" x2="182.90" y2="283.95" stroke="#000" stroke-width="1.1"/>
<line x1="208.00" y1="279.54" x2="208.00" y2="285.54" stroke="#000" stroke-width="1.1"/>
<line x1="243.60" y1="283.32" x2="243.60" y2="289.32" stroke="#000" stroke-width="1.1"/>
<line x1="302.00" y1="293.46" x2="302.00" y2="299.46" stroke="#000" stroke-width="1.1"/>
<line x1="356.00" y1="308.83" x2="356.00" y2="314.83" stroke="#000" stroke-width="1.1"/>
<line x1="400.40" y1="328.70" x2="400.40" y2="334.70" stroke="#000" stroke-width="1.1"/>
<line x1="178.00" y1="310.26" x2="178.00" y2="316.26" stroke="#000" stroke-width="1.1"/>
<line x1="200.80" y1="311.48" x2="200.80" y2="317.48" stroke="#000" stroke-width="1.1"/>
<line x1="235.00" y1="314.57" x2="235.00" y2="320.57" stroke="#000" stroke-width="1.1"/>
<line x1="295.30" y1="323.90" x2="295.30" y2="329.90" stroke="#000" stroke-width="1.1"/>
<line x1="334.70" y1="333.49" x2="334.70" y2="339.49" stroke="#000" stroke-width="1.1"/>
<line x1="368.00" y1="345.78" x2="368.00" y2="351.78" stroke="#000" stroke-width="1.1"/>
<rect x="196.90" y="161.40" width="10.60" height="9.39" fill="#fff"/>
<text x="202.20" y="169.05" font-size="8.2" text-anchor="middle" fill="#1e1e1e" stroke="#1e1e1e" stroke-width="0.3">50</text>
<rect x="224.60" y="162.30" width="10.60" height="9.39" fill="#fff"/>
<text x="229.90" y="169.95" font-size="8.2" text-anchor="middle" fill="#1e1e1e" stroke="#1e1e1e" stroke-width="0.3">60</text>
<rect x="263.50" y="165.50" width="10.60" height="9.39" fill="#fff"/>
<text x="268.80" y="173.15" font-size="8.2" text-anchor="middle" fill="#1e1e1e" stroke="#1e1e1e" stroke-width="0.3">70</text>
<rect x="319.60" y="174.30" width="10.60" height="9.39" fill="#fff"/>
<text x="324.90" y="181.95" font-size="8.2" text-anchor="middle" fill="#1e1e1e" stroke="#1e1e1e" stroke-width="0.3">80</text>
<rect x="416.00" y="202.10" width="16.60" height="9.39" fill="#fff"/>
<text x="424.30" y="209.75" font-size="8.2" text-anchor="middle" fill="#1e1e1e" stroke="#1e1e1e" stroke-width="0.3">85.2</text>
<rect x="498.30" y="248.30" width="10.60" height="9.39" fill="#fff"/>
<text x="503.60" y="255.95" font-size="8.2" text-anchor="middle" fill="#1e1e1e" stroke="#1e1e1e" stroke-width="0.3">80</text>
<rect x="193.70" y="192.10" width="10.60" height="9.39" fill="#fff"/>
<text x="199.00" y="199.75" font-size="8.2" text-anchor="middle" fill="#1e1e1e" stroke="#1e1e1e" stroke-width="0.3">50</text>
<rect x="220.80" y="193.10" width="10.60" height="9.39" fill="#fff"/>
<text x="226.10" y="200.75" font-size="8.2" text-anchor="middle" fill="#1e1e1e" stroke="#1e1e1e" stroke-width="0.3">60</text>
<rect x="258.50" y="197.60" width="10.60" height="9.39" fill="#fff"/>
<text x="263.80" y="205.25" font-size="8.2" text-anchor="middle" fill="#1e1e1e" stroke="#1e1e1e" stroke-width="0.3">70</text>
<rect x="314.20" y="206.10" width="10.60" height="9.39" fill="#fff"/>
<text x="319.50" y="213.75" font-size="8.2" text-anchor="middle" fill="#1e1e1e" stroke="#1e1e1e" stroke-width="0.3">80</text>
<rect x="398.90" y="230.30" width="16.60" height="9.39" fill="#fff"/>
<text x="407.20" y="237.95" font-size="8.2" text-anchor="middle" fill="#1e1e1e" stroke="#1e1e1e" stroke-width="0.3">84.5</text>
<rect x="470.90" y="266.31" width="10.60" height="9.39" fill="#fff"/>
<text x="476.20" y="273.95" font-size="8.2" text-anchor="middle" fill="#1e1e1e" stroke="#1e1e1e" stroke-width="0.3">80</text>
<rect x="189.60" y="220.20" width="10.60" height="9.39" fill="#fff"/>
<text x="194.90" y="227.85" font-size="8.2" text-anchor="middle" fill="#1e1e1e" stroke="#1e1e1e" stroke-width="0.3">50</text>
<rect x="215.80" y="221.30" width="10.60" height="9.39" fill="#fff"/>
<text x="221.10" y="228.95" font-size="8.2" text-anchor="middle" fill="#1e1e1e" stroke="#1e1e1e" stroke-width="0.3">60</text>
<rect x="251.90" y="225.40" width="10.60" height="9.39" fill="#fff"/>
<text x="257.20" y="233.05" font-size="8.2" text-anchor="middle" fill="#1e1e1e" stroke="#1e1e1e" stroke-width="0.3">70</text>
<rect x="308.50" y="235.10" width="10.60" height="9.39" fill="#fff"/>
<text x="313.80" y="242.75" font-size="8.2" text-anchor="middle" fill="#1e1e1e" stroke="#1e1e1e" stroke-width="0.3">80</text>
<rect x="383.20" y="257.31" width="16.60" height="9.39" fill="#fff"/>
<text x="391.50" y="264.95" font-size="8.2" text-anchor="middle" fill="#1e1e1e" stroke="#1e1e1e" stroke-width="0.3">83.9</text>
<rect x="444.20" y="288.20" width="10.60" height="9.39" fill="#fff"/>
<text x="449.50" y="295.85" font-size="8.2" text-anchor="middle" fill="#1e1e1e" stroke="#1e1e1e" stroke-width="0.3">80</text>
<rect x="185.20" y="245.40" width="10.60" height="9.39" fill="#fff"/>
<text x="190.50" y="253.05" font-size="8.2" text-anchor="middle" fill="#1e1e1e" stroke="#1e1e1e" stroke-width="0.3">50</text>
<rect x="211.60" y="247.30" width="10.60" height="9.39" fill="#fff"/>
<text x="216.90" y="254.95" font-size="8.2" text-anchor="middle" fill="#1e1e1e" stroke="#1e1e1e" stroke-width="0.3">60</text>
<rect x="248.20" y="251.10" width="10.60" height="9.39" fill="#fff"/>
<text x="253.50" y="258.75" font-size="8.2" text-anchor="middle" fill="#1e1e1e" stroke="#1e1e1e" stroke-width="0.3">70</text>
<rect x="304.50" y="261.31" width="10.60" height="9.39" fill="#fff"/>
<text x="309.80" y="268.95" font-size="8.2" text-anchor="middle" fill="#1e1e1e" stroke="#1e1e1e" stroke-width="0.3">80</text>
<rect x="369.30" y="280.61" width="16.60" height="9.39" fill="#fff"/>
<text x="377.60" y="288.25" font-size="8.2" text-anchor="middle" fill="#1e1e1e" stroke="#1e1e1e" stroke-width="0.3">83.2</text>
<rect x="424.80" y="307.11" width="10.60" height="9.39" fill="#fff"/>
<text x="430.10" y="314.75" font-size="8.2" text-anchor="middle" fill="#1e1e1e" stroke="#1e1e1e" stroke-width="0.3">80</text>
<rect x="182.80" y="268.61" width="10.60" height="9.39" fill="#fff"/>
<text x="188.10" y="276.25" font-size="8.2" text-anchor="middle" fill="#1e1e1e" stroke="#1e1e1e" stroke-width="0.3">50</text>
<rect x="207.70" y="270.11" width="10.60" height="9.39" fill="#fff"/>
<text x="213.00" y="277.75" font-size="8.2" text-anchor="middle" fill="#1e1e1e" stroke="#1e1e1e" stroke-width="0.3">60</text>
<rect x="242.90" y="273.61" width="10.60" height="9.39" fill="#fff"/>
<text x="248.20" y="281.25" font-size="8.2" text-anchor="middle" fill="#1e1e1e" stroke="#1e1e1e" stroke-width="0.3">70</text>
<rect x="301.40" y="283.11" width="10.60" height="9.39" fill="#fff"/>
<text x="306.70" y="290.75" font-size="8.2" text-anchor="middle" fill="#1e1e1e" stroke="#1e1e1e" stroke-width="0.3">80</text>
<rect x="357.20" y="299.20" width="16.60" height="9.39" fill="#fff"/>
<text x="365.50" y="306.85" font-size="8.2" text-anchor="middle" fill="#1e1e1e" stroke="#1e1e1e" stroke-width="0.3">82.6</text>
<rect x="401.40" y="319.11" width="10.60" height="9.39" fill="#fff"/>
<text x="406.70" y="326.75" font-size="8.2" text-anchor="middle" fill="#1e1e1e" stroke="#1e1e1e" stroke-width="0.3">80</text>
<rect x="176.50" y="301.41" width="10.60" height="9.39" fill="#fff"/>
<text x="181.80" y="309.05" font-size="8.2" text-anchor="middle" fill="#1e1e1e" stroke="#1e1e1e" stroke-width="0.3">50</text>
<rect x="200.30" y="302.11" width="10.60" height="9.39" fill="#fff"/>
<text x="205.60" y="309.75" font-size="8.2" text-anchor="middle" fill="#1e1e1e" stroke="#1e1e1e" stroke-width="0.3">60</text>
<rect x="234.60" y="305.11" width="10.60" height="9.39" fill="#fff"/>
<text x="239.90" y="312.75" font-size="8.2" text-anchor="middle" fill="#1e1e1e" stroke="#1e1e1e" stroke-width="0.3">70</text>
<rect x="295.00" y="314.11" width="10.60" height="9.39" fill="#fff"/>
<text x="300.30" y="321.75" font-size="8.2" text-anchor="middle" fill="#1e1e1e" stroke="#1e1e1e" stroke-width="0.3">80</text>
<rect x="334.20" y="324.61" width="16.60" height="9.39" fill="#fff"/>
<text x="342.50" y="332.25" font-size="8.2" text-anchor="middle" fill="#1e1e1e" stroke="#1e1e1e" stroke-width="0.3">81.4</text>
<rect x="369.20" y="338.11" width="10.60" height="9.39" fill="#fff"/>
<text x="374.50" y="345.75" font-size="8.2" text-anchor="middle" fill="#1e1e1e" stroke="#1e1e1e" stroke-width="0.3">80</text>
<rect x="154.6" y="160.5" width="31" height="12.3" fill="#fff"/>
<text x="156.00" y="170.20" font-size="11.2" text-anchor="start" font-weight="bold" fill="#111" stroke="#111" stroke-width="0.3" >Qmin</text>
<rect x="434.9" y="186.6" width="19.8" height="13" fill="#fff"/>
<text x="435.80" y="197.40" font-size="9.4" text-anchor="start" font-weight="bold" fill="#1e1e1e"  stroke="#1e1e1e" stroke-width="0.1" textLength="17.7" lengthAdjust="spacingAndGlyphs">η [%]</text>
<rect x="526.20" y="281.15" width="23.60" height="11.50" fill="#fff"/>
<text x="538.00" y="290.50" font-size="10" text-anchor="middle" fill="#1e1e1e" stroke="#1e1e1e" stroke-width="0.3">ø219</text>
<rect x="502.80" y="302.05" width="23.60" height="11.50" fill="#fff"/>
<text x="514.60" y="311.40" font-size="10" text-anchor="middle" fill="#1e1e1e" stroke="#1e1e1e" stroke-width="0.3">ø208</text>
<rect x="477.60" y="323.85" width="23.60" height="11.50" fill="#fff"/>
<text x="489.40" y="333.20" font-size="10" text-anchor="middle" fill="#1e1e1e" stroke="#1e1e1e" stroke-width="0.3">ø198</text>
<rect x="458.80" y="341.35" width="23.60" height="11.50" fill="#fff"/>
<text x="470.60" y="350.70" font-size="10" text-anchor="middle" fill="#1e1e1e" stroke="#1e1e1e" stroke-width="0.3">ø190</text>
<rect x="443.00" y="356.85" width="23.60" height="11.50" fill="#fff"/>
<text x="454.80" y="366.20" font-size="10" text-anchor="middle" fill="#1e1e1e" stroke="#1e1e1e" stroke-width="0.3">ø180</text>
<rect x="423.10" y="380.05" width="23.60" height="11.50" fill="#fff"/>
<text x="434.90" y="389.40" font-size="10" text-anchor="middle" fill="#1e1e1e" stroke="#1e1e1e" stroke-width="0.3">ø165</text>
<path d="M141.20,545.55 L145.50,546.13 L149.80,546.53 L154.10,546.78 L158.40,546.88 L162.71,546.85 L167.01,546.70 L171.31,546.45 L175.61,546.10 L179.91,545.67 L184.21,545.18 L188.51,544.64 L192.81,544.05 L197.11,543.44 L201.42,542.82 L205.72,542.18 L210.02,541.52 L214.32,540.85 L218.62,540.16 L222.92,539.46 L227.22,538.74 L231.52,538.01 L235.82,537.25 L240.13,536.48 L244.43,535.69 L248.73,534.89 L253.03,534.07 L257.33,533.23 L261.63,532.37 L265.93,531.50 L270.23,530.61 L274.53,529.70 L278.84,528.78 L283.14,527.85 L287.44,526.91 L291.74,525.95 L296.04,524.98 L300.34,523.99 L304.64,523.00 L308.94,521.99 L313.24,520.98 L317.55,519.95 L321.85,518.91 L326.15,517.87 L330.45,516.81 L334.75,515.75 L339.05,514.68 L343.35,513.61 L347.65,512.52 L351.96,511.42 L356.26,510.31 L360.56,509.18 L364.86,508.04 L369.16,506.88 L373.46,505.70 L377.76,504.50 L382.06,503.27 L386.36,502.02 L390.67,500.75 L394.97,499.44 L399.27,498.11 L403.57,496.74 L407.87,495.34 L412.17,493.91 L416.47,492.44 L420.77,490.93 L425.07,489.38 L429.38,487.78 L433.68,486.15 L437.98,484.47 L442.28,482.75 L446.58,480.99 L450.88,479.19 L455.18,477.36 L459.48,475.49 L463.78,473.60 L468.09,471.68 L472.39,469.73 L476.69,467.75 L480.99,465.76 L485.29,463.74 L489.59,461.71 L493.89,459.66 L498.19,457.60 L502.49,455.53 L506.80,453.45 L511.10,451.36 L515.40,449.27 L519.70,447.17 L524.00,445.08" fill="none" stroke="#000" stroke-width="2.4"/>
<path d="M102.20,743.66 L109.33,741.39 L116.46,739.06 L123.59,736.67 L130.72,734.23 L137.85,731.75 L144.98,729.23 L152.11,726.67 L159.24,724.08 L166.37,721.47 L173.51,718.84 L180.64,716.19 L187.77,713.54 L194.90,710.88 L202.03,708.22 L209.16,705.57 L216.29,702.93 L223.42,700.31 L230.55,697.71 L237.68,695.13 L244.81,692.58 L251.94,690.05 L259.07,687.55 L266.20,685.07 L273.33,682.61 L280.46,680.18 L287.59,677.76 L294.72,675.37 L301.85,673.00 L308.98,670.64 L316.12,668.29 L323.25,665.95 L330.38,663.62 L337.51,661.29 L344.64,658.97 L351.77,656.64 L358.90,654.32 L366.03,652.01 L373.16,649.72 L380.29,647.44 L387.42,645.18 L394.55,642.95 L401.68,640.75 L408.81,638.57 L415.94,636.43 L423.07,634.32 L430.20,632.25 L437.33,630.22 L444.46,628.22 L451.59,626.27 L458.73,624.36 L465.86,622.50 L472.99,620.68 L480.12,618.91 L487.25,617.19 L494.38,615.52 L501.51,613.91 L508.64,612.35 L515.77,610.85 L522.90,609.40" fill="none" stroke="#000" stroke-width="2.4"/>
<path d="M102.20,751.38 L108.94,749.19 L115.68,747.01 L122.43,744.84 L129.17,742.67 L135.91,740.52 L142.65,738.37 L149.40,736.24 L156.14,734.11 L162.88,731.99 L169.62,729.87 L176.37,727.76 L183.11,725.66 L189.85,723.57 L196.59,721.48 L203.34,719.40 L210.08,717.32 L216.82,715.25 L223.56,713.18 L230.31,711.12 L237.05,709.06 L243.79,707.01 L250.53,704.96 L257.27,702.92 L264.02,700.88 L270.76,698.84 L277.50,696.81 L284.24,694.78 L290.99,692.75 L297.73,690.73 L304.47,688.70 L311.21,686.68 L317.96,684.66 L324.70,682.64 L331.44,680.62 L338.18,678.61 L344.93,676.59 L351.67,674.57 L358.41,672.56 L365.15,670.54 L371.89,668.53 L378.64,666.51 L385.38,664.49 L392.12,662.47 L398.86,660.47 L405.61,658.50 L412.35,656.56 L419.09,654.68 L425.83,652.86 L432.58,651.11 L439.32,649.45 L446.06,647.90 L452.80,646.45 L459.55,645.10 L466.29,643.82 L473.03,642.60 L479.77,641.43 L486.52,640.27 L493.26,639.12 L500.00,637.95" fill="none" stroke="#000" stroke-width="2.4"/>
<path d="M102.20,759.42 L108.52,757.74 L114.83,756.03 L121.15,754.30 L127.46,752.55 L133.78,750.79 L140.09,749.01 L146.41,747.22 L152.72,745.42 L159.04,743.61 L165.35,741.78 L171.67,739.96 L177.98,738.12 L184.30,736.29 L190.61,734.45 L196.93,732.61 L203.24,730.77 L209.56,728.93 L215.87,727.10 L222.19,725.28 L228.51,723.46 L234.82,721.65 L241.14,719.86 L247.45,718.07 L253.77,716.30 L260.08,714.55 L266.40,712.81 L272.71,711.09 L279.03,709.39 L285.34,707.72 L291.66,706.07 L297.97,704.44 L304.29,702.84 L310.60,701.27 L316.92,699.73 L323.23,698.22 L329.55,696.74 L335.86,695.28 L342.18,693.83 L348.49,692.39 L354.81,690.94 L361.13,689.47 L367.44,687.97 L373.76,686.44 L380.07,684.88 L386.39,683.31 L392.70,681.74 L399.02,680.19 L405.33,678.67 L411.65,677.21 L417.96,675.82 L424.28,674.51 L430.59,673.31 L436.91,672.22 L443.22,671.24 L449.54,670.34 L455.85,669.51 L462.17,668.73 L468.48,667.98 L474.80,667.24" fill="none" stroke="#000" stroke-width="2.4"/>
<path d="M102.20,766.64 L108.19,765.09 L114.19,763.55 L120.18,762.00 L126.17,760.45 L132.17,758.90 L138.16,757.35 L144.15,755.81 L150.15,754.26 L156.14,752.71 L162.13,751.16 L168.13,749.62 L174.12,748.08 L180.11,746.54 L186.11,745.00 L192.10,743.47 L198.09,741.94 L204.08,740.41 L210.08,738.89 L216.07,737.38 L222.06,735.87 L228.06,734.36 L234.05,732.87 L240.04,731.38 L246.04,729.89 L252.03,728.42 L258.02,726.95 L264.02,725.49 L270.01,724.04 L276.00,722.60 L282.00,721.17 L287.99,719.75 L293.98,718.34 L299.98,716.94 L305.97,715.55 L311.96,714.17 L317.96,712.81 L323.95,711.46 L329.94,710.12 L335.94,708.79 L341.93,707.48 L347.92,706.18 L353.92,704.90 L359.91,703.63 L365.90,702.38 L371.89,701.15 L377.89,699.93 L383.88,698.73 L389.87,697.54 L395.87,696.37 L401.86,695.22 L407.85,694.09 L413.85,692.98 L419.84,691.89 L425.83,690.82 L431.83,689.76 L437.82,688.73 L443.81,687.72 L449.81,686.73 L455.80,685.76" fill="none" stroke="#000" stroke-width="2.4"/>
<path d="M102.20,774.01 L107.93,772.73 L113.65,771.43 L119.38,770.13 L125.10,768.82 L130.83,767.50 L136.55,766.17 L142.28,764.84 L148.00,763.50 L153.73,762.16 L159.45,760.81 L165.18,759.46 L170.91,758.10 L176.63,756.75 L182.36,755.39 L188.08,754.02 L193.81,752.66 L199.53,751.30 L205.26,749.94 L210.98,748.58 L216.71,747.22 L222.43,745.87 L228.16,744.51 L233.88,743.17 L239.61,741.82 L245.34,740.48 L251.06,739.14 L256.79,737.81 L262.51,736.49 L268.24,735.17 L273.96,733.85 L279.69,732.54 L285.41,731.23 L291.14,729.93 L296.86,728.64 L302.59,727.35 L308.32,726.08 L314.04,724.82 L319.77,723.57 L325.49,722.34 L331.22,721.12 L336.94,719.93 L342.67,718.76 L348.39,717.60 L354.12,716.47 L359.84,715.36 L365.57,714.27 L371.29,713.19 L377.02,712.14 L382.75,711.11 L388.47,710.10 L394.20,709.12 L399.92,708.15 L405.65,707.21 L411.37,706.30 L417.10,705.42 L422.82,704.56 L428.55,703.74 L434.27,702.94 L440.00,702.19" fill="none" stroke="#000" stroke-width="2.4"/>
<path d="M102.20,780.91 L107.57,779.94 L112.95,778.95 L118.32,777.93 L123.70,776.90 L129.07,775.85 L134.45,774.78 L139.82,773.70 L145.20,772.61 L150.57,771.51 L155.95,770.40 L161.32,769.29 L166.69,768.17 L172.07,767.05 L177.44,765.93 L182.82,764.82 L188.19,763.71 L193.57,762.60 L198.94,761.51 L204.32,760.42 L209.69,759.35 L215.07,758.29 L220.44,757.25 L225.82,756.22 L231.19,755.22 L236.56,754.23 L241.94,753.26 L247.31,752.28 L252.69,751.31 L258.06,750.33 L263.44,749.34 L268.81,748.32 L274.19,747.29 L279.56,746.22 L284.94,745.11 L290.31,743.95 L295.68,742.76 L301.06,741.53 L306.43,740.30 L311.81,739.08 L317.18,737.90 L322.56,736.78 L327.93,735.74 L333.31,734.80 L338.68,733.96 L344.06,733.19 L349.43,732.50 L354.81,731.85 L360.18,731.23 L365.55,730.62 L370.93,730.00 L376.30,729.37 L381.68,728.70 L387.05,727.98 L392.43,727.22 L397.80,726.41 L403.18,725.54 L408.55,724.62 L413.93,723.65 L419.30,722.62" fill="none" stroke="#000" stroke-width="2.4"/>
<rect x="525.90" y="606.75" width="23.60" height="11.50" fill="#fff"/>
<text x="537.70" y="616.10" font-size="10" text-anchor="middle" fill="#1e1e1e" stroke="#1e1e1e" stroke-width="0.3">ø219</text>
<rect x="502.80" y="634.75" width="23.60" height="11.50" fill="#fff"/>
<text x="514.60" y="644.10" font-size="10" text-anchor="middle" fill="#1e1e1e" stroke="#1e1e1e" stroke-width="0.3">ø208</text>
<rect x="477.90" y="664.25" width="23.60" height="11.50" fill="#fff"/>
<text x="489.70" y="673.60" font-size="10" text-anchor="middle" fill="#1e1e1e" stroke="#1e1e1e" stroke-width="0.3">ø198</text>
<rect x="459.20" y="683.95" width="23.60" height="11.50" fill="#fff"/>
<text x="471.00" y="693.30" font-size="10" text-anchor="middle" fill="#1e1e1e" stroke="#1e1e1e" stroke-width="0.3">ø190</text>
<rect x="442.70" y="699.85" width="23.60" height="11.50" fill="#fff"/>
<text x="454.50" y="709.20" font-size="10" text-anchor="middle" fill="#1e1e1e" stroke="#1e1e1e" stroke-width="0.3">ø180</text>
<rect x="422.60" y="720.85" width="23.60" height="11.50" fill="#fff"/>
<text x="434.40" y="730.20" font-size="10" text-anchor="middle" fill="#1e1e1e" stroke="#1e1e1e" stroke-width="0.3">ø165</text>
<text x="102.30" y="128.10" font-size="9.5" text-anchor="middle" font-weight="normal" fill="#1e1e1e" stroke="#1e1e1e" stroke-width="0.3" >0</text>
<text x="244.57" y="128.10" font-size="9.5" text-anchor="middle" font-weight="normal" fill="#1e1e1e" stroke="#1e1e1e" stroke-width="0.3" >200</text>
<text x="386.84" y="128.10" font-size="9.5" text-anchor="middle" font-weight="normal" fill="#1e1e1e" stroke="#1e1e1e" stroke-width="0.3" >400</text>
<text x="529.11" y="128.10" font-size="9.5" text-anchor="middle" font-weight="normal" fill="#1e1e1e" stroke="#1e1e1e" stroke-width="0.3" >600</text>
<text x="289.00" y="128.10" font-size="9.5" text-anchor="start" font-weight="normal" fill="#1e1e1e" stroke="#1e1e1e" stroke-width="0.3" textLength="49.5" lengthAdjust="spacingAndGlyphs">Q [US.gpm]</text>
<text x="102.30" y="148.60" font-size="9.5" text-anchor="middle" font-weight="normal" fill="#1e1e1e" stroke="#1e1e1e" stroke-width="0.3" >0</text>
<text x="187.73" y="148.60" font-size="9.5" text-anchor="middle" font-weight="normal" fill="#1e1e1e" stroke="#1e1e1e" stroke-width="0.3" >100</text>
<text x="273.16" y="148.60" font-size="9.5" text-anchor="middle" font-weight="normal" fill="#1e1e1e" stroke="#1e1e1e" stroke-width="0.3" >200</text>
<text x="358.59" y="148.60" font-size="9.5" text-anchor="middle" font-weight="normal" fill="#1e1e1e" stroke="#1e1e1e" stroke-width="0.3" >300</text>
<text x="444.02" y="148.60" font-size="9.5" text-anchor="middle" font-weight="normal" fill="#1e1e1e" stroke="#1e1e1e" stroke-width="0.3" >400</text>
<text x="529.45" y="148.60" font-size="9.5" text-anchor="middle" font-weight="normal" fill="#1e1e1e" stroke="#1e1e1e" stroke-width="0.3" >500</text>
<rect x="204" y="140" width="51" height="10" fill="#fff"/>
<text x="205.00" y="148.60" font-size="9.5" text-anchor="start" font-weight="normal" fill="#1e1e1e" stroke="#1e1e1e" stroke-width="0.3" textLength="48.6" lengthAdjust="spacingAndGlyphs">Q [IM.gpm]</text>
<text x="95.30" y="376.50" font-size="9.5" text-anchor="end" font-weight="normal" fill="#1e1e1e" stroke="#1e1e1e" stroke-width="0.3" >6</text>
<text x="95.30" y="338.50" font-size="9.5" text-anchor="end" font-weight="normal" fill="#1e1e1e" stroke="#1e1e1e" stroke-width="0.3" >8</text>
<text x="95.30" y="300.50" font-size="9.5" text-anchor="end" font-weight="normal" fill="#1e1e1e" stroke="#1e1e1e" stroke-width="0.3" >10</text>
<text x="95.30" y="261.50" font-size="9.5" text-anchor="end" font-weight="normal" fill="#1e1e1e" stroke="#1e1e1e" stroke-width="0.3" >12</text>
<text x="95.30" y="223.50" font-size="9.5" text-anchor="end" font-weight="normal" fill="#1e1e1e" stroke="#1e1e1e" stroke-width="0.3" >14</text>
<text x="95.30" y="185.50" font-size="9.5" text-anchor="end" font-weight="normal" fill="#1e1e1e" stroke="#1e1e1e" stroke-width="0.3" >16</text>
<text x="69.60" y="318.20" font-size="9.5" text-anchor="start" font-weight="normal" fill="#1e1e1e" stroke="#1e1e1e" stroke-width="0.3" >H [m]</text>
<text x="562.40" y="259.00" font-size="9.5" text-anchor="start" font-weight="normal" fill="#1e1e1e" stroke="#1e1e1e" stroke-width="0.3" >40</text>
<text x="562.40" y="375.00" font-size="9.5" text-anchor="start" font-weight="normal" fill="#1e1e1e" stroke="#1e1e1e" stroke-width="0.3" >20</text>
<text x="566.00" y="314.00" font-size="9.5" text-anchor="start" font-weight="normal" fill="#1e1e1e" stroke="#1e1e1e" stroke-width="0.3" >H [ft]</text>
<text x="102.30" y="409.10" font-size="9.5" text-anchor="middle" font-weight="normal" fill="#1e1e1e" stroke="#1e1e1e" stroke-width="0.3" >0</text>
<text x="164.94" y="409.10" font-size="9.5" text-anchor="middle" font-weight="normal" fill="#1e1e1e" stroke="#1e1e1e" stroke-width="0.3" >20</text>
<text x="227.58" y="409.10" font-size="9.5" text-anchor="middle" font-weight="normal" fill="#1e1e1e" stroke="#1e1e1e" stroke-width="0.3" >40</text>
<text x="290.22" y="409.10" font-size="9.5" text-anchor="middle" font-weight="normal" fill="#1e1e1e" stroke="#1e1e1e" stroke-width="0.3" >60</text>
<text x="352.86" y="409.10" font-size="9.5" text-anchor="middle" font-weight="normal" fill="#1e1e1e" stroke="#1e1e1e" stroke-width="0.3" >80</text>
<text x="415.50" y="409.10" font-size="9.5" text-anchor="middle" font-weight="normal" fill="#1e1e1e" stroke="#1e1e1e" stroke-width="0.3" >100</text>
<text x="478.14" y="409.10" font-size="9.5" text-anchor="middle" font-weight="normal" fill="#1e1e1e" stroke="#1e1e1e" stroke-width="0.3" >120</text>
<text x="540.78" y="409.10" font-size="9.5" text-anchor="middle" font-weight="normal" fill="#1e1e1e" stroke="#1e1e1e" stroke-width="0.3" >140</text>
<rect x="177" y="399" width="37" height="10.5" fill="#fff"/>
<text x="178.40" y="408.40" font-size="9.5" text-anchor="start" font-weight="normal" fill="#1e1e1e" stroke="#1e1e1e" stroke-width="0.3" textLength="34.3" lengthAdjust="spacingAndGlyphs">Q [m³/h]</text>
<text x="102.30" y="431.00" font-size="9.5" text-anchor="middle" font-weight="normal" fill="#1e1e1e" stroke="#1e1e1e" stroke-width="0.3" >0</text>
<text x="215.05" y="431.00" font-size="9.5" text-anchor="middle" font-weight="normal" fill="#1e1e1e" stroke="#1e1e1e" stroke-width="0.3" >10</text>
<text x="327.80" y="431.00" font-size="9.5" text-anchor="middle" font-weight="normal" fill="#1e1e1e" stroke="#1e1e1e" stroke-width="0.3" >20</text>
<text x="440.56" y="431.00" font-size="9.5" text-anchor="middle" font-weight="normal" fill="#1e1e1e" stroke="#1e1e1e" stroke-width="0.3" >30</text>
<text x="553.31" y="431.00" font-size="9.5" text-anchor="middle" font-weight="normal" fill="#1e1e1e" stroke="#1e1e1e" stroke-width="0.3" >40</text>
<text x="258.00" y="430.40" font-size="9.5" text-anchor="start" font-weight="normal" fill="#1e1e1e" stroke="#1e1e1e" stroke-width="0.3" textLength="24" lengthAdjust="spacingAndGlyphs">Q [l/s]</text>
<text x="95.20" y="437.20" font-size="9.5" text-anchor="end" font-weight="normal" fill="#1e1e1e" stroke="#1e1e1e" stroke-width="0.3" >1.8</text>
<text x="95.20" y="514.40" font-size="9.5" text-anchor="end" font-weight="normal" fill="#1e1e1e" stroke="#1e1e1e" stroke-width="0.3" >1</text>
<text x="95.20" y="568.40" font-size="9.5" text-anchor="end" font-weight="normal" fill="#1e1e1e" stroke="#1e1e1e" stroke-width="0.3" >0.4</text>
<text x="40.00" y="473.30" font-size="9.5" text-anchor="start" font-weight="normal" fill="#1e1e1e" stroke="#1e1e1e" stroke-width="0.3" >NPSH</text>
<text x="69.00" y="481.80" font-size="9.5" text-anchor="start" font-weight="normal" fill="#1e1e1e" stroke="#1e1e1e" stroke-width="0.3" >R</text>
<text x="78.90" y="473.80" font-size="9.5" text-anchor="start" font-weight="normal" fill="#1e1e1e" stroke="#1e1e1e" stroke-width="0.3" >[m]</text>
<text x="562.40" y="493.40" font-size="9.5" text-anchor="start" font-weight="normal" fill="#1e1e1e" stroke="#1e1e1e" stroke-width="0.3" >4</text>
<text x="562.40" y="550.40" font-size="9.5" text-anchor="start" font-weight="normal" fill="#1e1e1e" stroke="#1e1e1e" stroke-width="0.3" >2</text>
<text x="566.60" y="519.40" font-size="9.5" text-anchor="start" font-weight="normal" fill="#1e1e1e" stroke="#1e1e1e" stroke-width="0.3" >NPSH</text>
<text x="594.70" y="526.30" font-size="9.5" text-anchor="start" font-weight="normal" fill="#1e1e1e" stroke="#1e1e1e" stroke-width="0.3" >R</text>
<text x="603.00" y="519.40" font-size="9.5" text-anchor="start" font-weight="normal" fill="#1e1e1e" stroke="#1e1e1e" stroke-width="0.3" >[ft]</text>
<text x="95.10" y="586.10" font-size="9.5" text-anchor="end" font-weight="normal" fill="#1e1e1e" stroke="#1e1e1e" stroke-width="0.3" >6</text>
<text x="95.10" y="661.10" font-size="9.5" text-anchor="end" font-weight="normal" fill="#1e1e1e" stroke="#1e1e1e" stroke-width="0.3" >4</text>
<text x="95.10" y="737.10" font-size="9.5" text-anchor="end" font-weight="normal" fill="#1e1e1e" stroke="#1e1e1e" stroke-width="0.3" >2</text>
<text x="95.10" y="812.10" font-size="9.5" text-anchor="end" font-weight="normal" fill="#1e1e1e" stroke="#1e1e1e" stroke-width="0.3" >0</text>
<text x="63.80" y="696.00" font-size="9.5" text-anchor="start" font-weight="normal" fill="#1e1e1e" stroke="#1e1e1e" stroke-width="0.3" >P [kW]</text>
<text x="562.40" y="586.40" font-size="9.5" text-anchor="start" font-weight="normal" fill="#1e1e1e" stroke="#1e1e1e" stroke-width="0.3" >8</text>
<text x="562.40" y="642.80" font-size="9.5" text-anchor="start" font-weight="normal" fill="#1e1e1e" stroke="#1e1e1e" stroke-width="0.3" >6</text>
<text x="562.40" y="699.00" font-size="9.5" text-anchor="start" font-weight="normal" fill="#1e1e1e" stroke="#1e1e1e" stroke-width="0.3" >4</text>
<text x="562.40" y="755.20" font-size="9.5" text-anchor="start" font-weight="normal" fill="#1e1e1e" stroke="#1e1e1e" stroke-width="0.3" >2</text>
<text x="562.40" y="811.80" font-size="9.5" text-anchor="start" font-weight="normal" fill="#1e1e1e" stroke="#1e1e1e" stroke-width="0.3" >0</text>
<text x="566.00" y="725.40" font-size="9.5" text-anchor="start" font-weight="normal" fill="#1e1e1e" stroke="#1e1e1e" stroke-width="0.3" >P [hp]</text>
<text x="102.30" y="826.00" font-size="9.5" text-anchor="middle" font-weight="normal" fill="#1e1e1e" stroke="#1e1e1e" stroke-width="0.3" >0</text>
<text x="164.94" y="826.00" font-size="9.5" text-anchor="middle" font-weight="normal" fill="#1e1e1e" stroke="#1e1e1e" stroke-width="0.3" >20</text>
<text x="227.58" y="826.00" font-size="9.5" text-anchor="middle" font-weight="normal" fill="#1e1e1e" stroke="#1e1e1e" stroke-width="0.3" >40</text>
<text x="290.22" y="826.00" font-size="9.5" text-anchor="middle" font-weight="normal" fill="#1e1e1e" stroke="#1e1e1e" stroke-width="0.3" >60</text>
<text x="352.86" y="826.00" font-size="9.5" text-anchor="middle" font-weight="normal" fill="#1e1e1e" stroke="#1e1e1e" stroke-width="0.3" >80</text>
<text x="415.50" y="826.00" font-size="9.5" text-anchor="middle" font-weight="normal" fill="#1e1e1e" stroke="#1e1e1e" stroke-width="0.3" >100</text>
<text x="478.14" y="826.00" font-size="9.5" text-anchor="middle" font-weight="normal" fill="#1e1e1e" stroke="#1e1e1e" stroke-width="0.3" >120</text>
<text x="540.78" y="826.00" font-size="9.5" text-anchor="middle" font-weight="normal" fill="#1e1e1e" stroke="#1e1e1e" stroke-width="0.3" >140</text>
<rect x="176.5" y="814.5" width="37" height="10.5" fill="#fff"/>
<text x="177.80" y="824.40" font-size="9.5" text-anchor="start" font-weight="normal" fill="#1e1e1e" stroke="#1e1e1e" stroke-width="0.3" textLength="34.3" lengthAdjust="spacingAndGlyphs">Q [m³/h]</text>
<text x="534.80" y="839.20" font-size="6.4" text-anchor="middle" font-weight="normal" fill="#1e1e1e" stroke="#1e1e1e" stroke-width="0.3" textLength="45.5" lengthAdjust="spacingAndGlyphs">K1311.454/41/3</text>
<rect x="444.5" y="777" width="94.6" height="29.5" fill="#fff" stroke="#000" stroke-width="1.25"/>
<text x="446.00" y="783.90" font-size="6.5" text-anchor="start" font-weight="normal" fill="#1e1e1e"  stroke="#1e1e1e" stroke-width="0.22" textLength="93" lengthAdjust="spacingAndGlyphs">Korrekturfaktor Stahlgusslaufrad</text>
<text x="446.00" y="790.20" font-size="6.5" text-anchor="start" font-weight="normal" fill="#1e1e1e"  stroke="#1e1e1e" stroke-width="0.22" textLength="86" lengthAdjust="spacingAndGlyphs">correction factor steel impeller</text>
<text x="451.60" y="799.80" font-size="6.5" text-anchor="start" font-weight="normal" fill="#1e1e1e"  stroke="#1e1e1e" stroke-width="0.22">η</text>
<text x="455.60" y="797.80" font-size="6.5" text-anchor="start" font-weight="normal" fill="#1e1e1e"  stroke="#1e1e1e" stroke-width="0.22">:</text>
<text x="461.20" y="798.60" font-size="6.5" text-anchor="start" font-weight="normal" fill="#1e1e1e"  stroke="#1e1e1e" stroke-width="0.22" textLength="16.5" lengthAdjust="spacingAndGlyphs">0,952</text>
<text x="451.80" y="805.50" font-size="6.5" text-anchor="start" font-weight="normal" fill="#1e1e1e"  stroke="#1e1e1e" stroke-width="0.22">P:</text>
<text x="461.20" y="805.50" font-size="6.5" text-anchor="start" font-weight="normal" fill="#1e1e1e"  stroke="#1e1e1e" stroke-width="0.22" textLength="15.8" lengthAdjust="spacingAndGlyphs">1,051</text>
<rect x="494" y="156.3" width="62" height="88.7" fill="#fff"/>
<rect x="495.5" y="158" width="61" height="86.5" fill="none" stroke="#000" stroke-width="1"/>
<line x1="495.00" y1="158.00" x2="557.00" y2="158.00" stroke="#000" stroke-width="1.5"/>
<line x1="556.60" y1="155.00" x2="556.60" y2="245.00" stroke="#000" stroke-width="1.8"/>
<text x="499.20" y="167.90" font-size="6.2" text-anchor="start" font-weight="normal" fill="#111"  stroke="#111" stroke-width="0.35" textLength="13.0" lengthAdjust="spacingAndGlyphs">Form</text>
<text x="514.90" y="167.90" font-size="6.2" text-anchor="start" font-weight="normal" fill="#111"  stroke="#111" stroke-width="0.35" textLength="3.6" lengthAdjust="spacingAndGlyphs">A</text>
<text x="521.20" y="167.90" font-size="6.2" text-anchor="start" font-weight="normal" fill="#111"  stroke="#111" stroke-width="0.35" textLength="5.9" lengthAdjust="spacingAndGlyphs">01</text>
<text x="530.70" y="167.90" font-size="6.2" text-anchor="start" font-weight="normal" fill="#111"  stroke="#111" stroke-width="0.35" textLength="6.7" lengthAdjust="spacingAndGlyphs">AN</text>
<text x="540.10" y="167.90" font-size="6.2" text-anchor="start" font-weight="normal" fill="#111"  stroke="#111" stroke-width="0.35" textLength="11.3" lengthAdjust="spacingAndGlyphs">1528</text>
<line x1="522.30" y1="184.50" x2="543.40" y2="184.50" stroke="#000" stroke-width="0.8"/>
<line x1="522.30" y1="184.50" x2="522.30" y2="191.20" stroke="#000" stroke-width="0.8"/>
<line x1="527.10" y1="184.50" x2="527.10" y2="191.20" stroke="#000" stroke-width="0.8"/>
<line x1="543.40" y1="184.50" x2="543.40" y2="187.00" stroke="#000" stroke-width="0.8"/>
<line x1="543.40" y1="187.00" x2="546.90" y2="187.00" stroke="#000" stroke-width="0.8"/>
<line x1="546.90" y1="187.00" x2="546.90" y2="231.00" stroke="#000" stroke-width="0.8"/>
<line x1="510.90" y1="191.20" x2="546.90" y2="191.20" stroke="#000" stroke-width="0.9"/>
<line x1="512.60" y1="192.00" x2="512.60" y2="222.00" stroke="#000" stroke-width="0.8"/>
<path d="M512.6,191.5 L511.3,198 L513.9,198 Z" fill="#000"/>
<line x1="512.60" y1="225.00" x2="512.60" y2="234.70" stroke="#000" stroke-width="0.8"/>
<text x="516.00" y="224.00" font-size="5.5" text-anchor="middle" font-weight="normal" fill="#1e1e1e" stroke="#1e1e1e" stroke-width="0.3" transform="rotate(-90 516 222)">d2</text>
<defs><pattern id="hatch" width="2.2" height="2.2" patternUnits="userSpaceOnUse" patternTransform="rotate(-45)"><rect width="2.2" height="2.2" fill="#fff"/><line x1="0" y1="0" x2="0" y2="2.2" stroke="#333" stroke-width="1"/></pattern></defs>
<path d="M522.3,191.5 L527.4,191.5 L527.4,226 Q527.6,229.8 531,230.6 L525,231.3 Q522.3,230 522.3,227 Z" fill="url(#hatch)" stroke="#222" stroke-width="0.6"/>
<path d="M538.6,191.5 L543.4,191.5 L543.4,228 Q543,231 540,231.3 L534.5,231 Q538.4,229.8 538.6,226 Z" fill="url(#hatch)" stroke="#222" stroke-width="0.6"/>
<line x1="527.00" y1="231.30" x2="541.00" y2="231.30" stroke="#000" stroke-width="0.6"/>
<line x1="508.60" y1="238.20" x2="531.20" y2="238.20" stroke="#777" stroke-width="1.2"/>
<line x1="537.00" y1="238.20" x2="541.00" y2="238.20" stroke="#777" stroke-width="1.2"/>
<line x1="546.30" y1="238.20" x2="551.50" y2="238.20" stroke="#777" stroke-width="1.2"/>
<text x="105.5" y="471.2" font-size="27" font-weight="bold" fill="#e0202a" font-family="Liberation Serif, Times New Roman, serif" textLength="229" lengthAdjust="spacingAndGlyphs">www.devsaan.com</text>
</svg>
</body></html>
